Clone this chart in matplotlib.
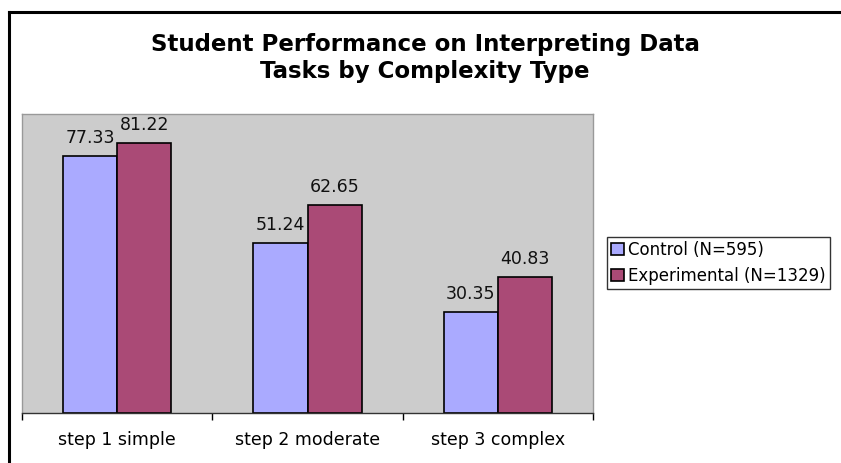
import matplotlib
matplotlib.use("Agg")
import matplotlib.pyplot as plt
from matplotlib.lines import Line2D
import numpy as np

categories = ["step 1 simple", "step 2 moderate", "step 3 complex"]
control = [77.33, 51.24, 30.35]
experimental = [81.22, 62.65, 40.83]
series_names = ["Control (N=595)", "Experimental (N=1329)"]
title = "Student Performance on Interpreting Data\nTasks by Complexity Type"

W, H = 841, 463
fig = plt.figure(figsize=(W/100, H/100), dpi=100)
fig.patch.set_facecolor("white")

ax = fig.add_axes([22/W, (H-413)/H, 571/W, 299/H])
ax.set_facecolor("#cccccc")
x = np.arange(len(categories))
bw = 54/190
c_col = "#aaaaff"
e_col = "#aa4a76"
b1 = ax.bar(x - bw/2, control, bw, color=c_col, edgecolor="black", linewidth=1.2, label=series_names[0])
b2 = ax.bar(x + bw/2, experimental, bw, color=e_col, edgecolor="black", linewidth=1.2, label=series_names[1])
for bars, vals in ((b1, control), (b2, experimental)):
    for r, v in zip(bars, vals):
        ax.text(r.get_x() + r.get_width()/2, v + 2.7, f"{v:.2f}", ha="center", va="bottom",
                fontsize=12.5, color="#111111")

ax.set_xlim(-0.5, len(categories) - 0.5)
ax.set_ylim(0, 90)
ax.set_yticks([])
ax.set_xticks(x)
ax.set_xticklabels(categories, fontsize=12.5)
ax.tick_params(axis="x", which="major", length=0, pad=13)
ax.set_xticks(np.arange(len(categories) + 1) - 0.5, minor=True)
ax.tick_params(axis="x", which="minor", length=5, width=1, color="black")
for s in ("top", "right", "left"):
    ax.spines[s].set_color("#999999")
    ax.spines[s].set_linewidth(1)
ax.spines["bottom"].set_color("#333333")
ax.spines["bottom"].set_linewidth(1)

fig.text(425/W, 1 - 58/H, title, fontsize=16.5, fontweight="bold", ha="center", va="center",
         linespacing=1.2)

leg = fig.legend(handles=[b1, b2], loc="upper left", bbox_to_anchor=(607/W, 1 - 237/H),
                 fontsize=12, frameon=True, fancybox=False, edgecolor="black",
                 handlelength=0.75, handleheight=0.75, handletextpad=0.25, borderpad=0.25,
                 labelspacing=0.45, borderaxespad=0)
leg.get_frame().set_linewidth(1)

fig.add_artist(Line2D([9/W, 9/W], [0, 1 - 12/H], color="black", linewidth=2.2))
fig.add_artist(Line2D([9/W, 1], [1 - 12/H, 1 - 12/H], color="black", linewidth=2.2))

fig.savefig("out.png", dpi=100)
